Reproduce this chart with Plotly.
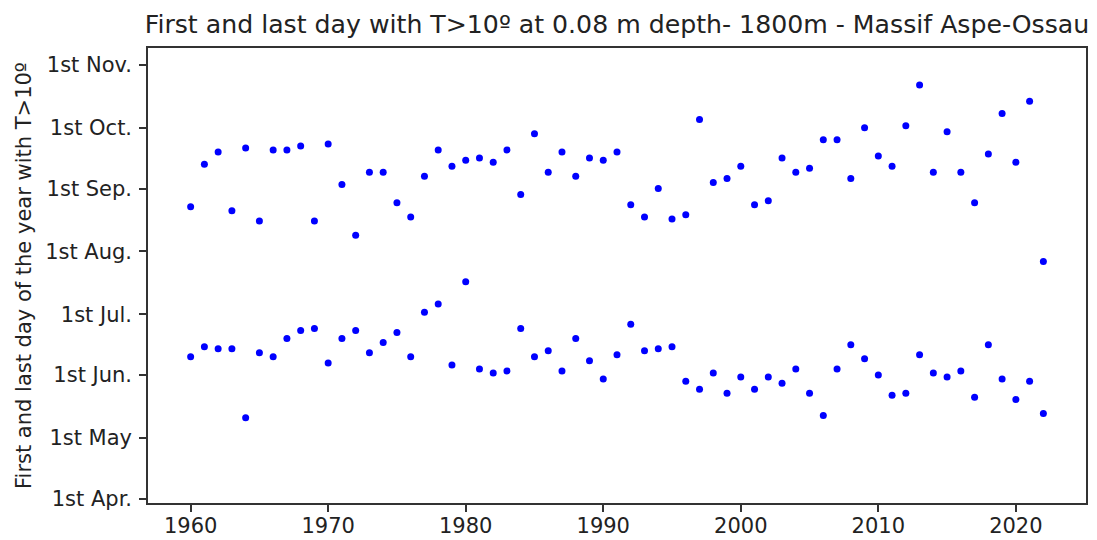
import plotly.graph_objects as go

years = list(range(1960, 2023))

# last day of the year with T>10º (day of year)
last_day = [235, 256, 262, 233, 264, 228, 263, 263, 265, 228,
            266, 246, 221, 252, 252, 237, 230, 250, 263, 255,
            258, 259, 257, 263, 241, 271, 252, 262, 250, 259,
            258, 262, 236, 230, 244, 229, 231, 278, 247, 249,
            255, 236, 238, 259, 252, 254, 268, 268, 249, 274,
            260, 255, 275, 295, 252, 272, 252, 237, 261, 281,
            257, 287, 208]

# first day of the year with T>10º (day of year)
first_day = [161, 166, 165, 165, 131, 163, 161, 170, 174, 175,
             158, 170, 174, 163, 168, 173, 161, 183, 187, 157,
             198, 155, 153, 154, 175, 161, 164, 154, 170, 159,
             150, 162, 177, 164, 165, 166, 149, 145, 153, 143,
             151, 145, 151, 148, 155, 143, 132, 155, 167, 160,
             152, 142, 143, 162, 153, 151, 154, 141, 167, 150,
             140, 149, 133]

tick_days = [91, 121, 152, 182, 213, 244, 274, 305]
tick_labels = ["1st Apr.", "1st May", "1st Jun.", "1st Jul.",
               "1st Aug.", "1st Sep.", "1st Oct.", "1st Nov."]
year_ticks = [1960, 1970, 1980, 1990, 2000, 2010, 2020]

title_text = "First and last day with T>10º at 0.08 m depth- 1800m - Massif Aspe-Ossau"
ylabel_text = "First and last day of the year with T>10º"

font_family = "DejaVu Sans"
txt_color = "#222222"

# the page body adds an 8 px offset; the figure is sized to end at the window edge
W, H = 1089, 532
L, R, T, B = 140, 11, 40, 37
plot_w = W - L - R

fig = go.Figure()
marker = dict(color="#0000ff", size=7, line=dict(width=0))
fig.add_trace(go.Scatter(x=years, y=first_day, mode="markers", marker=marker,
                         showlegend=False, hoverinfo="x+y"))
fig.add_trace(go.Scatter(x=years, y=last_day, mode="markers", marker=marker,
                         showlegend=False, hoverinfo="x+y"))

axis_common = dict(
    showgrid=False, zeroline=False, showline=True, mirror=True,
    linecolor="#333333", linewidth=1.5, automargin=False,
    ticks="outside", ticklen=7, tickwidth=1.5, tickcolor="#333333",
    tickfont=dict(family=font_family, size=21, color=txt_color),
)

fig.update_layout(
    width=W, height=H,
    margin=dict(l=L, r=R, t=T, b=B),
    paper_bgcolor="white", plot_bgcolor="white",
    font=dict(family=font_family, color=txt_color),
    title=dict(text=title_text, x=0.5, xref="paper", xanchor="center",
               y=1 - 16 / H, yref="container", yanchor="middle",
               font=dict(family=font_family, size=25.2, color=txt_color)),
    xaxis=dict(range=[1956.9, 2025.1], tickmode="array", tickvals=year_ticks,
               ticktext=[str(y) for y in year_ticks], ticklabelstandoff=-4,
               **axis_common),
    yaxis=dict(range=[88.9, 313.3], tickmode="array", tickvals=tick_days,
               ticktext=tick_labels, ticklabelstandoff=3, **axis_common),
    annotations=[dict(text=ylabel_text, textangle=-90, showarrow=False,
                      xref="paper", yref="paper",
                      x=(15.5 - L) / plot_w, xanchor="center",
                      y=0.5, yanchor="middle",
                      font=dict(family=font_family, size=21, color=txt_color))],
)

fig.write_html("out.html")
